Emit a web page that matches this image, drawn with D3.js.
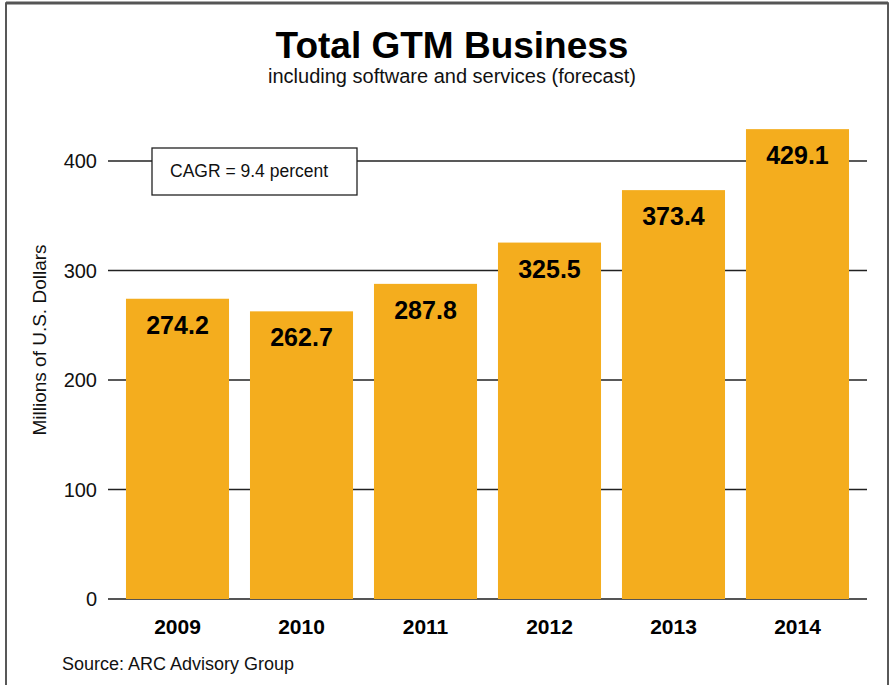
<!DOCTYPE html>
<html><head><meta charset="utf-8">
<script src="https://cdn.jsdelivr.net/npm/d3@7"></script>
<style>body{margin:0;background:#fff;}svg{display:block;font-family:"Liberation Sans",Arial,sans-serif;}</style>
</head><body>
<svg id="c" width="896" height="685"></svg>
<script>
const years = ["2009","2010","2011","2012","2013","2014"];
const values = [274.2, 262.7, 287.8, 325.5, 373.4, 429.1];
const yTicks = [0, 100, 200, 300, 400];
const title = "Total GTM Business";
const subtitle = "including software and services (forecast)";
const yLabel = "Millions of U.S. Dollars";
const note = "CAGR = 9.4 percent";
const source = "Source: ARC Advisory Group";

const svg = d3.select("#c");
// frame
svg.append("rect").attr("x",6).attr("y",3).attr("width",882).attr("height",700)
  .attr("fill","none").attr("stroke","#222").attr("stroke-width",1.5);
svg.append("line").attr("x1",6).attr("x2",888).attr("y1",3).attr("y2",3).attr("stroke","#555").attr("stroke-width",3);

const x = d3.scaleBand().domain(years).range([108,867]).paddingInner(0.169).paddingOuter(0.145);
const y = d3.scaleLinear().domain([0,400]).range([599,161]);

// grid
svg.append("g").selectAll("line").data(yTicks).join("line")
  .attr("x1",108).attr("x2",867).attr("y1",d=>y(d)).attr("y2",d=>y(d))
  .attr("stroke",d=>d===0?"#555":"#222").attr("stroke-width",d=>d===0?2:1.3);
svg.append("g").selectAll("text").data(yTicks).join("text")
  .attr("x",97).attr("y",d=>y(d)+7).attr("text-anchor","end")
  .attr("font-size",20).attr("fill","#111").text(d=>d);

// bars
svg.append("g").selectAll("rect").data(values).join("rect")
  .attr("x",(d,i)=>x(years[i])).attr("width",x.bandwidth())
  .attr("y",d=>y(d)).attr("height",d=>y(0)-y(d)).attr("fill","#F4AD1E");
svg.append("g").selectAll("text").data(values).join("text")
  .attr("x",(d,i)=>x(years[i])+x.bandwidth()/2).attr("y",d=>y(d)+35)
  .attr("text-anchor","middle").attr("font-size",25).attr("font-weight","bold")
  .attr("fill","#000").text(d=>d.toFixed(1));

// x labels
svg.append("g").selectAll("text").data(years).join("text")
  .attr("x",d=>x(d)+x.bandwidth()/2).attr("y",634).attr("text-anchor","middle")
  .attr("font-size",21).attr("font-weight","bold").attr("fill","#000").text(d=>d);

// CAGR box
svg.append("rect").attr("x",152).attr("y",148).attr("width",205).attr("height",47)
  .attr("fill","#fff").attr("stroke","#222").attr("stroke-width",1.3);
svg.append("text").attr("x",170).attr("y",177).attr("font-size",17.5).attr("fill","#111").text(note);

// titles
svg.append("text").attr("x",452).attr("y",58).attr("text-anchor","middle")
  .attr("font-size",37).attr("font-weight","bold").attr("fill","#000").text(title);
svg.append("text").attr("x",452).attr("y",83).attr("text-anchor","middle")
  .attr("font-size",20).attr("fill","#111").text(subtitle);

// y label
svg.append("text").attr("transform","translate(46,340) rotate(-90)").attr("text-anchor","middle")
  .attr("font-size",19).attr("fill","#111").text(yLabel);

// source
svg.append("text").attr("x",62).attr("y",670).attr("font-size",18).attr("fill","#111").text(source);
</script>
</body></html>
